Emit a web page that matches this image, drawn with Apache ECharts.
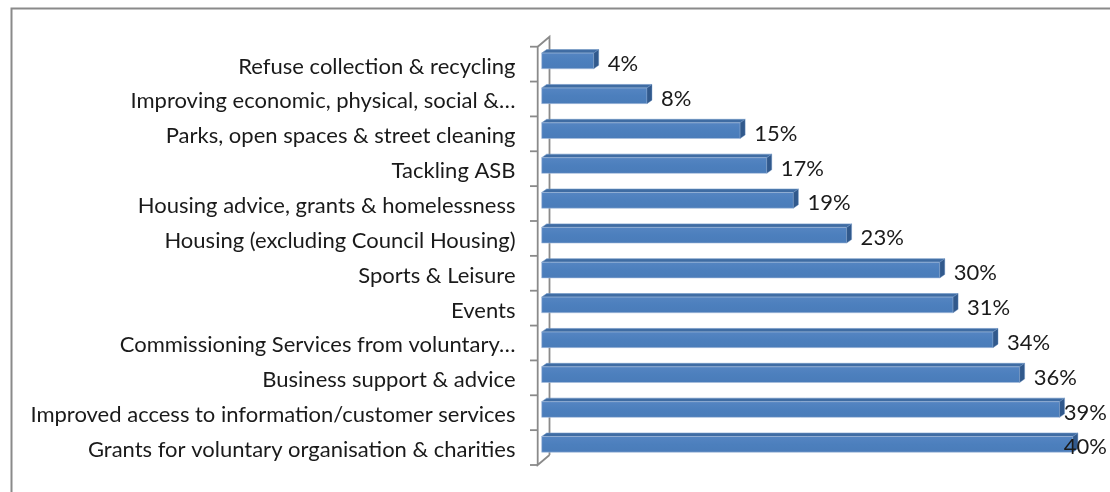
<!DOCTYPE html>
<html>
<head>
<meta charset="utf-8">
<script src="https://cdn.jsdelivr.net/npm/echarts@6/dist/echarts.min.js"></script>
<style>
html,body{margin:0;padding:0;background:#fff;}
#chart{width:1110px;height:492px;}
</style>
</head>
<body>
<div id="chart"></div>
<script>
const categories = [
  "Refuse collection & recycling",
  "Improving economic, physical, social &\u2026",
  "Parks, open spaces & street cleaning",
  "Tackling ASB",
  "Housing advice, grants & homelessness",
  "Housing (excluding Council Housing)",
  "Sports & Leisure",
  "Events",
  "Commissioning Services from voluntary\u2026",
  "Business support & advice",
  "Improved access to information/customer services",
  "Grants for voluntary organisation & charities"
];
const values = [4, 8, 15, 17, 19, 23, 30, 31, 34, 36, 39, 40];

const FONT = '22px Lato, "Open Sans", sans-serif';
const chart = echarts.init(document.getElementById('chart'));

function barItem(params, api) {
  const v = api.value(0), c = api.value(1);
  const p0 = api.coord([0, c]);
  const p1 = api.coord([v, c]);
  const band = api.size([0, 1])[1];
  const h = band * 0.45;
  const dx = 5, dy = 3.5;
  const x0 = p0[0] + 1.2, x1 = p1[0], yc = p1[1];
  const yT = yc - h / 2, yB = yc + h / 2;
  const text = v + '%';
  const tw = echarts.format.getTextRect ? echarts.format.getTextRect(text, FONT).width : 43;
  const tx = Math.min(x1 + dx + 9, api.getWidth() - tw - 3);
  return {
    type: 'group',
    children: [
      { type: 'polygon', shape: { points: [[x0, yT], [x0 + dx, yT - dy], [x1 + dx, yT - dy], [x1, yT]] },
        style: { fill: '#3f6ca3', stroke: '#6f95c4', lineWidth: 0.6 } },
      { type: 'rect', shape: { x: x0, y: yT, width: x1 - x0, height: h },
        style: { fill: new echarts.graphic.LinearGradient(0, 0, 0, 1, [
          { offset: 0, color: '#5585c2' }, { offset: 0.5, color: '#4c7fbd' }, { offset: 1, color: '#4a7cb9' }]),
          stroke: '#a9c0de', lineWidth: 0.6 } },
      { type: 'polygon', shape: { points: [[x1, yT], [x1 + dx, yT - dy], [x1 + dx, yB - dy], [x1, yB]] },
        style: { fill: '#31598c', stroke: '#6f95c4', lineWidth: 0.4 } },
      { type: 'text', x: tx, y: yc + 3,
        style: { text: text, font: FONT, fill: '#1a1a1a', textVerticalAlign: 'middle', textAlign: 'left' } }
    ]
  };
}

function wallItem(params, api) {
  const cs = params.coordSys;
  const n = categories.length;
  const band = cs.height / n;
  const fx = cs.x - 2.8, fTop = cs.y + 3.2, fBot = cs.y + cs.height + 3.2;
  const ddx = 11.8, ddy = -10;
  const st = { stroke: '#8a8a8a', lineWidth: 1.8 };
  const children = [
    { type: 'polyline', shape: { points: [[fx + ddx, fBot + ddy], [fx + ddx, fTop + ddy], [fx, fTop], [fx, fBot], [fx + ddx, fBot + ddy]] }, style: Object.assign({ fill: null }, st) }
  ];
  for (let i = 0; i <= n; i++) {
    const y = fTop + i * band;
    children.push({ type: 'line', shape: { x1: fx - 7.7, y1: y, x2: fx, y2: y }, style: st });
  }
  return { type: 'group', children: children };
}

chart.setOption({
  animation: false,
  graphic: [{ type: 'rect', left: 9, top: 6, shape: { width: 1300, height: 700 },
    style: { fill: null, stroke: '#8a8a8a', lineWidth: 2 } }],
  grid: { left: 540.5, right: 10.5, top: 43.5, bottom: 30.2 },
  xAxis: { type: 'value', min: 0, max: 42, show: false, splitLine: { show: false } },
  yAxis: {
    type: 'category', inverse: true, data: categories,
    axisLine: { show: false }, axisTick: { show: false },
    axisLabel: { margin: 25, verticalAlign: 'middle',
      formatter: '{a|{value}}',
      rich: { a: { color: '#1a1a1a', fontFamily: 'Lato, "Open Sans", sans-serif', fontSize: 22,
        padding: [11, 0, 0, 0] } } }
  },
  series: [
    { type: 'custom', renderItem: wallItem, data: [[0, 0]], silent: true, z: 1 },
    { type: 'custom', renderItem: barItem, data: values.map((v, i) => [v, i]), z: 2,
      encode: { x: 0, y: 1 } }
  ]
});
</script>
</body>
</html>
